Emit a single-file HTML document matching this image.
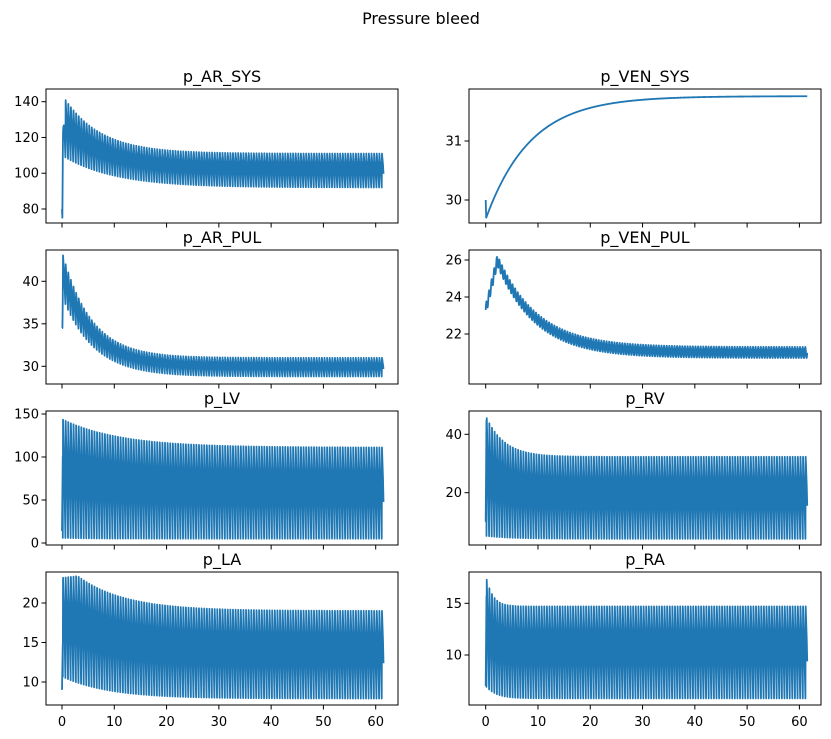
<!DOCTYPE html>
<html><head><meta charset="utf-8"><style>
html,body{margin:0;padding:0;background:#fff;}
svg{display:block;font-family:"DejaVu Sans","Liberation Sans",sans-serif;}
</style></head><body>
<svg id="s" width="831" height="739" viewBox="0 0 831 739" xmlns="http://www.w3.org/2000/svg">
<text x="421" y="24" font-size="16" text-anchor="middle">Pressure bleed</text>
</svg>
<script>
const S=document.getElementById('s');const NS='http://www.w3.org/2000/svg';
function el(n,a,t){const e=document.createElementNS(NS,n);for(const k in a)e.setAttribute(k,a[k]);if(t!==undefined)e.textContent=t;S.appendChild(e);return e;}
const E=Math.exp;
const cols=[[46,398],[469,821]];
const rows=[[89,223],[250,384],[411,545],[572,705]];
const x0px=[62,485.7],pxu=(375.7-62)/60;
const PER=0.5;
function wave(up,lo,start){return function(t){
 if(t<0.15) return start(t);
 const ph=((t-0.15)%PER)/PER;const u=up(t),l=lo(t);
 if(ph<0.1) return l+(u-l)*ph/0.1;
 if(ph<0.5) return u-(u-l)*0.35*(ph-0.1)/0.4;
 return u-(u-l)*(0.35+0.65*(ph-0.5)/0.5);
};}
const P=[
 {c:0,r:0,t:'p_AR_SYS',m:[140,101.7,80,209],ticks:[80,100,120,140],f:wave(t=>111+33*E(-t/7)*(t<0.5?t/0.5:1),t=>92+18*E(-t/10),t=>t<0.07?80-70*t:75+400*(t-0.07))},
 {c:0,r:1,t:'p_AR_PUL',m:[40,281.3,30,366.3],ticks:[30,35,40],f:wave(t=>31+12.5*E(-t/5.5),t=>28.8+9.5*E(-t/6),t=>34.5+50*Math.max(0,t-0.08))},
 {c:1,r:0,t:'p_VEN_SYS',m:[31,141,30,200],ticks:[30,31],f:t=>t<0.1?30-3*t:31.76-2.06*E(-(t-0.1)/8.5)},
 {c:1,r:1,t:'p_VEN_PUL',m:[26,260,22,334],ticks:[22,24,26],f:t=>{let b=t<2.2?23.3+1.2*t:21+5*E(-(t-2.2)/7.5);return b+0.3*Math.sin(t*2*Math.PI/PER);}},
 {c:0,r:2,t:'p_LV',m:[150,414,0,543],ticks:[0,50,100,150],f:wave(t=>111+33*E(-t/11),t=>5+1*E(-t/5),t=>14+600*t)},
 {c:1,r:2,t:'p_RV',m:[40,434.3,20,492.7],ticks:[20,40],f:wave(t=>32.3+14*E(-t/3.5),t=>4.2+1*E(-t/5),t=>10+240*t)},
 {c:0,r:3,t:'p_LA',m:[20,603,10,682],ticks:[10,15,20],f:wave(t=>19+4.4*(t<3?(0.95+0.05*t/3):E(-(t-3)/9)),t=>7.9+2.8*E(-t/9),t=>9+40*t)},
 {c:1,r:3,t:'p_RA',m:[15,603.3,10,655],ticks:[10,15],f:wave(t=>14.7+3*E(-t/1.3),t=>5.8+1.2*E(-t/2),t=>7+60*t)},
];
P.forEach((p,i)=>{
 const [X0,X1]=cols[p.c],[Y0,Y1]=rows[p.r];
 const [v1,p1,v2,p2]=p.m;const yp=v=>p1+(v-v1)*(p2-p1)/(v2-v1);const xp=t=>x0px[p.c]+t*pxu;
 const cpth=el('clipPath',{id:'c'+i});const cp=document.createElementNS(NS,'rect');cpth.appendChild(cp);
 cp.setAttribute('x',X0);cp.setAttribute('y',Y0);cp.setAttribute('width',X1-X0);cp.setAttribute('height',Y1-Y0);
 let d='';for(let t=0;t<=61.5;t+=0.005){const v=p.f(t);d+=(d?'L':'M')+xp(t).toFixed(2)+' '+yp(v).toFixed(2);}
 el('path',{d:d,fill:'none',stroke:'#1f77b4','stroke-width':1.8,'clip-path':'url(#c'+i+')','stroke-linejoin':'round'});
 el('rect',{x:X0,y:Y0,width:X1-X0,height:Y1-Y0,fill:'none',stroke:'#000','stroke-width':1});
 el('text',{x:(X0+X1)/2,y:Y0-7,'font-size':16,'text-anchor':'middle'},p.t);
 p.ticks.forEach(v=>{const y=yp(v);el('line',{x1:X0-4.5,x2:X0,y1:y,y2:y,stroke:'#000','stroke-width':1});
  el('text',{x:X0-7,y:y+4.5,'font-size':13,'text-anchor':'end'},String(v));});
 for(let k=0;k<=60;k+=10){const x=xp(k);el('line',{x1:x,x2:x,y1:Y1,y2:Y1+4.5,stroke:'#000','stroke-width':1});
  if(p.r==3)el('text',{x:x,y:Y1+21,'font-size':13,'text-anchor':'middle'},String(k));}
});
</script>
</body></html>
